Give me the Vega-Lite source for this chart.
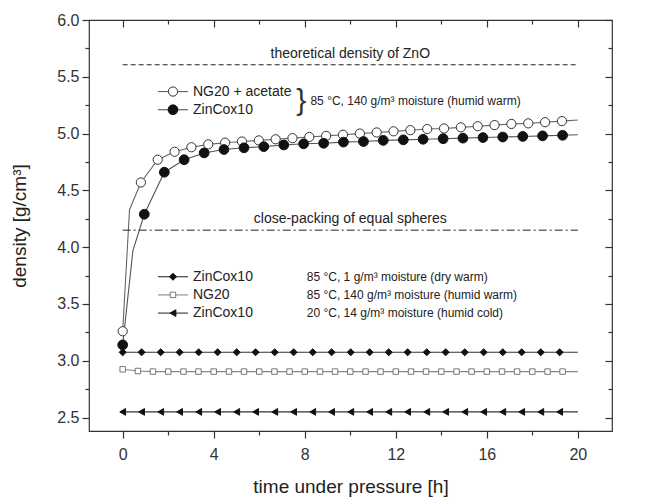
{
  "$schema": "https://vega.github.io/schema/vega-lite/v6.json",
  "width": 523,
  "height": 411,
  "autosize": {"type": "none"},
  "padding": {"left": 89, "top": 20, "right": 37, "bottom": 66},
  "background": "white",
  "config": {
    "view": {"stroke": "#333", "strokeWidth": 1.2},
    "legend": {"disable": true},
    "axis": {"labelFont": "Liberation Sans", "titleFont": "Liberation Sans", "labelFontSize": 16, "titleFontSize": 19, "titleFontWeight": "normal", "labelColor": "#333", "titleColor": "#222", "tickColor": "#333", "tickWidth": 1.2, "domain": false, "grid": false},
    "text": {"font": "Liberation Sans", "color": "#222"}
  },
  "datasets": {
    "curves": [
      {"series": "NG20 + acetate, 85 °C, 140 g/m³", "t": 0, "density": 3.26, "marker": true},
      {"series": "NG20 + acetate, 85 °C, 140 g/m³", "t": 0.3, "density": 4.33, "marker": false},
      {"series": "NG20 + acetate, 85 °C, 140 g/m³", "t": 0.8, "density": 4.57, "marker": true},
      {"series": "NG20 + acetate, 85 °C, 140 g/m³", "t": 1.54, "density": 4.77, "marker": true},
      {"series": "NG20 + acetate, 85 °C, 140 g/m³", "t": 2.28, "density": 4.84, "marker": true},
      {"series": "NG20 + acetate, 85 °C, 140 g/m³", "t": 3.02, "density": 4.88, "marker": true},
      {"series": "NG20 + acetate, 85 °C, 140 g/m³", "t": 3.76, "density": 4.905, "marker": true},
      {"series": "NG20 + acetate, 85 °C, 140 g/m³", "t": 4.5, "density": 4.92, "marker": true},
      {"series": "NG20 + acetate, 85 °C, 140 g/m³", "t": 5.24, "density": 4.93, "marker": true},
      {"series": "NG20 + acetate, 85 °C, 140 g/m³", "t": 5.98, "density": 4.94, "marker": true},
      {"series": "NG20 + acetate, 85 °C, 140 g/m³", "t": 6.72, "density": 4.95, "marker": true},
      {"series": "NG20 + acetate, 85 °C, 140 g/m³", "t": 7.46, "density": 4.96, "marker": true},
      {"series": "NG20 + acetate, 85 °C, 140 g/m³", "t": 8.2, "density": 4.97, "marker": true},
      {"series": "NG20 + acetate, 85 °C, 140 g/m³", "t": 8.94, "density": 4.98, "marker": true},
      {"series": "NG20 + acetate, 85 °C, 140 g/m³", "t": 9.68, "density": 4.99, "marker": true},
      {"series": "NG20 + acetate, 85 °C, 140 g/m³", "t": 10.42, "density": 5.0, "marker": true},
      {"series": "NG20 + acetate, 85 °C, 140 g/m³", "t": 11.16, "density": 5.01, "marker": true},
      {"series": "NG20 + acetate, 85 °C, 140 g/m³", "t": 11.9, "density": 5.02, "marker": true},
      {"series": "NG20 + acetate, 85 °C, 140 g/m³", "t": 12.64, "density": 5.03, "marker": true},
      {"series": "NG20 + acetate, 85 °C, 140 g/m³", "t": 13.38, "density": 5.04, "marker": true},
      {"series": "NG20 + acetate, 85 °C, 140 g/m³", "t": 14.12, "density": 5.045, "marker": true},
      {"series": "NG20 + acetate, 85 °C, 140 g/m³", "t": 14.86, "density": 5.055, "marker": true},
      {"series": "NG20 + acetate, 85 °C, 140 g/m³", "t": 15.6, "density": 5.065, "marker": true},
      {"series": "NG20 + acetate, 85 °C, 140 g/m³", "t": 16.34, "density": 5.075, "marker": true},
      {"series": "NG20 + acetate, 85 °C, 140 g/m³", "t": 17.08, "density": 5.085, "marker": true},
      {"series": "NG20 + acetate, 85 °C, 140 g/m³", "t": 17.82, "density": 5.09, "marker": true},
      {"series": "NG20 + acetate, 85 °C, 140 g/m³", "t": 18.56, "density": 5.1, "marker": true},
      {"series": "NG20 + acetate, 85 °C, 140 g/m³", "t": 19.3, "density": 5.11, "marker": true},
      {"series": "NG20 + acetate, 85 °C, 140 g/m³", "t": 20, "density": 5.12, "marker": false},

      {"series": "ZinCox10, 85 °C, 140 g/m³", "t": 0, "density": 3.14, "marker": true},
      {"series": "ZinCox10, 85 °C, 140 g/m³", "t": 0.45, "density": 3.97, "marker": false},
      {"series": "ZinCox10, 85 °C, 140 g/m³", "t": 0.95, "density": 4.29, "marker": true},
      {"series": "ZinCox10, 85 °C, 140 g/m³", "t": 1.83, "density": 4.66, "marker": true},
      {"series": "ZinCox10, 85 °C, 140 g/m³", "t": 2.7, "density": 4.77, "marker": true},
      {"series": "ZinCox10, 85 °C, 140 g/m³", "t": 3.58, "density": 4.83, "marker": true},
      {"series": "ZinCox10, 85 °C, 140 g/m³", "t": 4.45, "density": 4.86, "marker": true},
      {"series": "ZinCox10, 85 °C, 140 g/m³", "t": 5.33, "density": 4.875, "marker": true},
      {"series": "ZinCox10, 85 °C, 140 g/m³", "t": 6.2, "density": 4.885, "marker": true},
      {"series": "ZinCox10, 85 °C, 140 g/m³", "t": 7.08, "density": 4.9, "marker": true},
      {"series": "ZinCox10, 85 °C, 140 g/m³", "t": 7.95, "density": 4.91, "marker": true},
      {"series": "ZinCox10, 85 °C, 140 g/m³", "t": 8.83, "density": 4.915, "marker": true},
      {"series": "ZinCox10, 85 °C, 140 g/m³", "t": 9.7, "density": 4.925, "marker": true},
      {"series": "ZinCox10, 85 °C, 140 g/m³", "t": 10.58, "density": 4.93, "marker": true},
      {"series": "ZinCox10, 85 °C, 140 g/m³", "t": 11.45, "density": 4.94, "marker": true},
      {"series": "ZinCox10, 85 °C, 140 g/m³", "t": 12.33, "density": 4.945, "marker": true},
      {"series": "ZinCox10, 85 °C, 140 g/m³", "t": 13.2, "density": 4.95, "marker": true},
      {"series": "ZinCox10, 85 °C, 140 g/m³", "t": 14.08, "density": 4.955, "marker": true},
      {"series": "ZinCox10, 85 °C, 140 g/m³", "t": 14.95, "density": 4.96, "marker": true},
      {"series": "ZinCox10, 85 °C, 140 g/m³", "t": 15.83, "density": 4.965, "marker": true},
      {"series": "ZinCox10, 85 °C, 140 g/m³", "t": 16.7, "density": 4.97, "marker": true},
      {"series": "ZinCox10, 85 °C, 140 g/m³", "t": 17.58, "density": 4.975, "marker": true},
      {"series": "ZinCox10, 85 °C, 140 g/m³", "t": 18.45, "density": 4.98, "marker": true},
      {"series": "ZinCox10, 85 °C, 140 g/m³", "t": 19.33, "density": 4.985, "marker": true},
      {"series": "ZinCox10, 85 °C, 140 g/m³", "t": 20, "density": 4.99, "marker": false},

      {"series": "ZinCox10, 85 °C, 1 g/m³", "t": 0, "density": 3.075, "marker": true},
      {"series": "ZinCox10, 85 °C, 1 g/m³", "t": 0.83, "density": 3.075, "marker": true},
      {"series": "ZinCox10, 85 °C, 1 g/m³", "t": 1.67, "density": 3.075, "marker": true},
      {"series": "ZinCox10, 85 °C, 1 g/m³", "t": 2.5, "density": 3.075, "marker": true},
      {"series": "ZinCox10, 85 °C, 1 g/m³", "t": 3.34, "density": 3.075, "marker": true},
      {"series": "ZinCox10, 85 °C, 1 g/m³", "t": 4.17, "density": 3.075, "marker": true},
      {"series": "ZinCox10, 85 °C, 1 g/m³", "t": 5.01, "density": 3.075, "marker": true},
      {"series": "ZinCox10, 85 °C, 1 g/m³", "t": 5.84, "density": 3.075, "marker": true},
      {"series": "ZinCox10, 85 °C, 1 g/m³", "t": 6.68, "density": 3.075, "marker": true},
      {"series": "ZinCox10, 85 °C, 1 g/m³", "t": 7.51, "density": 3.075, "marker": true},
      {"series": "ZinCox10, 85 °C, 1 g/m³", "t": 8.35, "density": 3.075, "marker": true},
      {"series": "ZinCox10, 85 °C, 1 g/m³", "t": 9.18, "density": 3.075, "marker": true},
      {"series": "ZinCox10, 85 °C, 1 g/m³", "t": 10.02, "density": 3.075, "marker": true},
      {"series": "ZinCox10, 85 °C, 1 g/m³", "t": 10.85, "density": 3.075, "marker": true},
      {"series": "ZinCox10, 85 °C, 1 g/m³", "t": 11.69, "density": 3.075, "marker": true},
      {"series": "ZinCox10, 85 °C, 1 g/m³", "t": 12.52, "density": 3.075, "marker": true},
      {"series": "ZinCox10, 85 °C, 1 g/m³", "t": 13.36, "density": 3.075, "marker": true},
      {"series": "ZinCox10, 85 °C, 1 g/m³", "t": 14.19, "density": 3.075, "marker": true},
      {"series": "ZinCox10, 85 °C, 1 g/m³", "t": 15.03, "density": 3.075, "marker": true},
      {"series": "ZinCox10, 85 °C, 1 g/m³", "t": 15.86, "density": 3.075, "marker": true},
      {"series": "ZinCox10, 85 °C, 1 g/m³", "t": 16.7, "density": 3.075, "marker": true},
      {"series": "ZinCox10, 85 °C, 1 g/m³", "t": 17.53, "density": 3.075, "marker": true},
      {"series": "ZinCox10, 85 °C, 1 g/m³", "t": 18.37, "density": 3.075, "marker": true},
      {"series": "ZinCox10, 85 °C, 1 g/m³", "t": 19.2, "density": 3.075, "marker": true},
      {"series": "ZinCox10, 85 °C, 1 g/m³", "t": 20, "density": 3.075, "marker": false},

      {"series": "NG20, 85 °C, 140 g/m³", "t": 0, "density": 2.925, "marker": true},
      {"series": "NG20, 85 °C, 140 g/m³", "t": 0.67, "density": 2.91, "marker": true},
      {"series": "NG20, 85 °C, 140 g/m³", "t": 1.33, "density": 2.905, "marker": true},
      {"series": "NG20, 85 °C, 140 g/m³", "t": 2.0, "density": 2.905, "marker": true},
      {"series": "NG20, 85 °C, 140 g/m³", "t": 2.67, "density": 2.905, "marker": true},
      {"series": "NG20, 85 °C, 140 g/m³", "t": 3.33, "density": 2.905, "marker": true},
      {"series": "NG20, 85 °C, 140 g/m³", "t": 4.0, "density": 2.905, "marker": true},
      {"series": "NG20, 85 °C, 140 g/m³", "t": 4.67, "density": 2.905, "marker": true},
      {"series": "NG20, 85 °C, 140 g/m³", "t": 5.33, "density": 2.905, "marker": true},
      {"series": "NG20, 85 °C, 140 g/m³", "t": 6.0, "density": 2.905, "marker": true},
      {"series": "NG20, 85 °C, 140 g/m³", "t": 6.67, "density": 2.905, "marker": true},
      {"series": "NG20, 85 °C, 140 g/m³", "t": 7.33, "density": 2.905, "marker": true},
      {"series": "NG20, 85 °C, 140 g/m³", "t": 8.0, "density": 2.905, "marker": true},
      {"series": "NG20, 85 °C, 140 g/m³", "t": 8.67, "density": 2.905, "marker": true},
      {"series": "NG20, 85 °C, 140 g/m³", "t": 9.33, "density": 2.905, "marker": true},
      {"series": "NG20, 85 °C, 140 g/m³", "t": 10.0, "density": 2.905, "marker": true},
      {"series": "NG20, 85 °C, 140 g/m³", "t": 10.67, "density": 2.905, "marker": true},
      {"series": "NG20, 85 °C, 140 g/m³", "t": 11.33, "density": 2.905, "marker": true},
      {"series": "NG20, 85 °C, 140 g/m³", "t": 12.0, "density": 2.905, "marker": true},
      {"series": "NG20, 85 °C, 140 g/m³", "t": 12.67, "density": 2.905, "marker": true},
      {"series": "NG20, 85 °C, 140 g/m³", "t": 13.33, "density": 2.905, "marker": true},
      {"series": "NG20, 85 °C, 140 g/m³", "t": 14.0, "density": 2.905, "marker": true},
      {"series": "NG20, 85 °C, 140 g/m³", "t": 14.67, "density": 2.905, "marker": true},
      {"series": "NG20, 85 °C, 140 g/m³", "t": 15.33, "density": 2.905, "marker": true},
      {"series": "NG20, 85 °C, 140 g/m³", "t": 16.0, "density": 2.905, "marker": true},
      {"series": "NG20, 85 °C, 140 g/m³", "t": 16.67, "density": 2.905, "marker": true},
      {"series": "NG20, 85 °C, 140 g/m³", "t": 17.33, "density": 2.905, "marker": true},
      {"series": "NG20, 85 °C, 140 g/m³", "t": 18.0, "density": 2.905, "marker": true},
      {"series": "NG20, 85 °C, 140 g/m³", "t": 18.67, "density": 2.905, "marker": true},
      {"series": "NG20, 85 °C, 140 g/m³", "t": 19.33, "density": 2.905, "marker": true},
      {"series": "NG20, 85 °C, 140 g/m³", "t": 20, "density": 2.905, "marker": false},

      {"series": "ZinCox10, 20 °C, 14 g/m³", "t": 0, "density": 2.55, "marker": true},
      {"series": "ZinCox10, 20 °C, 14 g/m³", "t": 0.83, "density": 2.55, "marker": true},
      {"series": "ZinCox10, 20 °C, 14 g/m³", "t": 1.67, "density": 2.55, "marker": true},
      {"series": "ZinCox10, 20 °C, 14 g/m³", "t": 2.5, "density": 2.55, "marker": true},
      {"series": "ZinCox10, 20 °C, 14 g/m³", "t": 3.34, "density": 2.55, "marker": true},
      {"series": "ZinCox10, 20 °C, 14 g/m³", "t": 4.17, "density": 2.55, "marker": true},
      {"series": "ZinCox10, 20 °C, 14 g/m³", "t": 5.01, "density": 2.55, "marker": true},
      {"series": "ZinCox10, 20 °C, 14 g/m³", "t": 5.84, "density": 2.55, "marker": true},
      {"series": "ZinCox10, 20 °C, 14 g/m³", "t": 6.68, "density": 2.55, "marker": true},
      {"series": "ZinCox10, 20 °C, 14 g/m³", "t": 7.51, "density": 2.55, "marker": true},
      {"series": "ZinCox10, 20 °C, 14 g/m³", "t": 8.35, "density": 2.55, "marker": true},
      {"series": "ZinCox10, 20 °C, 14 g/m³", "t": 9.18, "density": 2.55, "marker": true},
      {"series": "ZinCox10, 20 °C, 14 g/m³", "t": 10.02, "density": 2.55, "marker": true},
      {"series": "ZinCox10, 20 °C, 14 g/m³", "t": 10.85, "density": 2.55, "marker": true},
      {"series": "ZinCox10, 20 °C, 14 g/m³", "t": 11.69, "density": 2.55, "marker": true},
      {"series": "ZinCox10, 20 °C, 14 g/m³", "t": 12.52, "density": 2.55, "marker": true},
      {"series": "ZinCox10, 20 °C, 14 g/m³", "t": 13.36, "density": 2.55, "marker": true},
      {"series": "ZinCox10, 20 °C, 14 g/m³", "t": 14.19, "density": 2.55, "marker": true},
      {"series": "ZinCox10, 20 °C, 14 g/m³", "t": 15.03, "density": 2.55, "marker": true},
      {"series": "ZinCox10, 20 °C, 14 g/m³", "t": 15.86, "density": 2.55, "marker": true},
      {"series": "ZinCox10, 20 °C, 14 g/m³", "t": 16.7, "density": 2.55, "marker": true},
      {"series": "ZinCox10, 20 °C, 14 g/m³", "t": 17.53, "density": 2.55, "marker": true},
      {"series": "ZinCox10, 20 °C, 14 g/m³", "t": 18.37, "density": 2.55, "marker": true},
      {"series": "ZinCox10, 20 °C, 14 g/m³", "t": 19.2, "density": 2.55, "marker": true},
      {"series": "ZinCox10, 20 °C, 14 g/m³", "t": 20, "density": 2.55, "marker": false}
    ]
  },
  "resolve": {"axis": {"x": "independent", "y": "independent"}},
  "layer": [
    {
      "data": {"name": "curves"},
      "mark": {"type": "line", "strokeWidth": 1.1},
      "encoding": {
        "x": {"field": "t", "type": "quantitative", "scale": {"domain": [-1.48, 21.5], "nice": false, "zero": false},
          "axis": {"orient": "bottom", "values": [0, 2, 4, 6, 8, 10, 12, 14, 16, 18, 20], "labelExpr": "datum.value % 4 === 0 ? datum.label : ''", "tickSize": {"condition": {"test": "datum.value % 4 === 0", "value": 7}, "value": 4}, "labelPadding": 8, "title": "time under pressure [h]", "titlePadding": 15}},
        "y": {"field": "density", "type": "quantitative", "scale": {"domain": [2.382, 6.0], "nice": false, "zero": false},
          "axis": {"orient": "left", "values": [2.5, 2.75, 3, 3.25, 3.5, 3.75, 4, 4.25, 4.5, 4.75, 5, 5.25, 5.5, 5.75, 6], "labelExpr": "round(datum.value * 4) % 2 === 0 ? format(datum.value, '.1f') : ''", "tickSize": {"condition": {"test": "round(datum.value * 4) % 2 === 0", "value": 7}, "value": 4}, "labelPadding": 3, "title": "density [g/cm³]", "titlePadding": 27}},
        "color": {"field": "series", "type": "nominal", "legend": null,
          "scale": {"domain": ["NG20 + acetate, 85 °C, 140 g/m³", "ZinCox10, 85 °C, 140 g/m³", "ZinCox10, 85 °C, 1 g/m³", "NG20, 85 °C, 140 g/m³", "ZinCox10, 20 °C, 14 g/m³"], "range": ["#666666", "#555555", "#333333", "#888888", "#333333"]}},
        "order": {"field": "t", "type": "quantitative"}
      }
    },
    {
      "data": {"name": "curves"},
      "transform": [{"filter": "datum.marker"}],
      "mark": {"type": "point", "opacity": 1, "strokeWidth": 1},
      "encoding": {
        "x": {"field": "t", "type": "quantitative",
          "axis": {"orient": "top", "values": [0, 2, 4, 6, 8, 10, 12, 14, 16, 18, 20], "labels": false, "title": null, "tickSize": {"condition": {"test": "datum.value % 4 === 0", "value": -7}, "value": -4}}},
        "y": {"field": "density", "type": "quantitative",
          "axis": {"orient": "right", "values": [2.5, 2.75, 3, 3.25, 3.5, 3.75, 4, 4.25, 4.5, 4.75, 5, 5.25, 5.5, 5.75, 6], "labels": false, "title": null, "tickSize": {"condition": {"test": "round(datum.value * 4) % 2 === 0", "value": -7}, "value": -4}}},
        "shape": {"field": "series", "type": "nominal", "legend": null,
          "scale": {"domain": ["NG20 + acetate, 85 °C, 140 g/m³", "ZinCox10, 85 °C, 140 g/m³", "ZinCox10, 85 °C, 1 g/m³", "NG20, 85 °C, 140 g/m³", "ZinCox10, 20 °C, 14 g/m³"], "range": ["circle", "circle", "diamond", "square", "triangle-left"]}},
        "fill": {"field": "series", "type": "nominal", "legend": null,
          "scale": {"domain": ["NG20 + acetate, 85 °C, 140 g/m³", "ZinCox10, 85 °C, 140 g/m³", "ZinCox10, 85 °C, 1 g/m³", "NG20, 85 °C, 140 g/m³", "ZinCox10, 20 °C, 14 g/m³"], "range": ["#ffffff", "#111111", "#111111", "#ffffff", "#111111"]}},
        "stroke": {"field": "series", "type": "nominal", "legend": null,
          "scale": {"domain": ["NG20 + acetate, 85 °C, 140 g/m³", "ZinCox10, 85 °C, 140 g/m³", "ZinCox10, 85 °C, 1 g/m³", "NG20, 85 °C, 140 g/m³", "ZinCox10, 20 °C, 14 g/m³"], "range": ["#333333", "#111111", "#111111", "#777777", "#111111"]}},
        "size": {"field": "series", "type": "nominal", "legend": null,
          "scale": {"type": "ordinal", "domain": ["NG20 + acetate, 85 °C, 140 g/m³", "ZinCox10, 85 °C, 140 g/m³", "ZinCox10, 85 °C, 1 g/m³", "NG20, 85 °C, 140 g/m³", "ZinCox10, 20 °C, 14 g/m³"], "range": [85, 95, 50, 30, 45]}}
      }
    },
    {
      "data": {"values": [{}]},
      "mark": {"type": "rule", "strokeDash": [5, 3], "color": "#222", "strokeWidth": 1},
      "encoding": {"x": {"datum": 0, "axis": null}, "x2": {"datum": 20}, "y": {"datum": 5.606, "axis": null}}
    },
    {
      "data": {"values": [{}]},
      "mark": {"type": "rule", "strokeDash": [8, 3, 2, 3], "color": "#222", "strokeWidth": 1},
      "encoding": {"x": {"datum": 0, "axis": null}, "x2": {"datum": 20}, "y": {"datum": 4.15, "axis": null}}
    },
    {
      "data": {"values": [{}]},
      "mark": {"type": "text", "text": "theoretical density of ZnO", "fontSize": 14, "align": "center", "baseline": "bottom", "dy": -4},
      "encoding": {"x": {"datum": 10, "axis": null}, "y": {"datum": 5.606, "axis": null}}
    },
    {
      "data": {"values": [{}]},
      "mark": {"type": "text", "text": "close-packing of equal spheres", "fontSize": 14, "align": "center", "baseline": "bottom", "dy": -4},
      "encoding": {"x": {"datum": 10, "axis": null}, "y": {"datum": 4.15, "axis": null}}
    },
    {"data": {"values": [{}]}, "mark": {"type": "rule", "strokeWidth": 1.1},
      "encoding": {"x": {"datum": 1.55, "axis": null}, "x2": {"datum": 2.87}, "y": {"datum": 5.37, "axis": null}, "color": {"datum": "NG20 + acetate, 85 °C, 140 g/m³"}}},
    {"data": {"values": [{}]}, "mark": {"type": "rule", "strokeWidth": 1.1},
      "encoding": {"x": {"datum": 1.55, "axis": null}, "x2": {"datum": 2.87}, "y": {"datum": 5.21, "axis": null}, "color": {"datum": "ZinCox10, 85 °C, 140 g/m³"}}},
    {"data": {"values": [{}]}, "mark": {"type": "rule", "strokeWidth": 1.1},
      "encoding": {"x": {"datum": 1.55, "axis": null}, "x2": {"datum": 2.87}, "y": {"datum": 3.74, "axis": null}, "color": {"datum": "ZinCox10, 85 °C, 1 g/m³"}}},
    {"data": {"values": [{}]}, "mark": {"type": "rule", "strokeWidth": 1.1},
      "encoding": {"x": {"datum": 1.55, "axis": null}, "x2": {"datum": 2.87}, "y": {"datum": 3.58, "axis": null}, "color": {"datum": "NG20, 85 °C, 140 g/m³"}}},
    {"data": {"values": [{}]}, "mark": {"type": "rule", "strokeWidth": 1.1},
      "encoding": {"x": {"datum": 1.55, "axis": null}, "x2": {"datum": 2.87}, "y": {"datum": 3.42, "axis": null}, "color": {"datum": "ZinCox10, 20 °C, 14 g/m³"}}},
    {"data": {"values": [{}]}, "mark": {"type": "point", "opacity": 1, "strokeWidth": 1, "size": 85},
      "encoding": {"x": {"datum": 2.21, "axis": null}, "y": {"datum": 5.37, "axis": null}, "shape": {"datum": "NG20 + acetate, 85 °C, 140 g/m³"}, "fill": {"datum": "NG20 + acetate, 85 °C, 140 g/m³"}, "stroke": {"datum": "NG20 + acetate, 85 °C, 140 g/m³"}}},
    {"data": {"values": [{}]}, "mark": {"type": "point", "opacity": 1, "strokeWidth": 1, "size": 95},
      "encoding": {"x": {"datum": 2.21, "axis": null}, "y": {"datum": 5.21, "axis": null}, "shape": {"datum": "ZinCox10, 85 °C, 140 g/m³"}, "fill": {"datum": "ZinCox10, 85 °C, 140 g/m³"}, "stroke": {"datum": "ZinCox10, 85 °C, 140 g/m³"}}},
    {"data": {"values": [{}]}, "mark": {"type": "point", "opacity": 1, "strokeWidth": 1, "size": 50},
      "encoding": {"x": {"datum": 2.21, "axis": null}, "y": {"datum": 3.74, "axis": null}, "shape": {"datum": "ZinCox10, 85 °C, 1 g/m³"}, "fill": {"datum": "ZinCox10, 85 °C, 1 g/m³"}, "stroke": {"datum": "ZinCox10, 85 °C, 1 g/m³"}}},
    {"data": {"values": [{}]}, "mark": {"type": "point", "opacity": 1, "strokeWidth": 1, "size": 30},
      "encoding": {"x": {"datum": 2.21, "axis": null}, "y": {"datum": 3.58, "axis": null}, "shape": {"datum": "NG20, 85 °C, 140 g/m³"}, "fill": {"datum": "NG20, 85 °C, 140 g/m³"}, "stroke": {"datum": "NG20, 85 °C, 140 g/m³"}}},
    {"data": {"values": [{}]}, "mark": {"type": "point", "opacity": 1, "strokeWidth": 1, "size": 45},
      "encoding": {"x": {"datum": 2.21, "axis": null}, "y": {"datum": 3.42, "axis": null}, "shape": {"datum": "ZinCox10, 20 °C, 14 g/m³"}, "fill": {"datum": "ZinCox10, 20 °C, 14 g/m³"}, "stroke": {"datum": "ZinCox10, 20 °C, 14 g/m³"}}},
    {"data": {"values": [{}]},
      "mark": {"type": "text", "text": ["NG20 + acetate", "ZinCox10"], "fontSize": 14, "lineHeight": 18.3, "align": "left", "baseline": "middle"},
      "encoding": {"x": {"datum": 3.09, "axis": null}, "y": {"datum": 5.37, "axis": null}}},
    {"data": {"values": [{}]},
      "mark": {"type": "text", "text": "}", "fontSize": 30, "align": "center", "baseline": "middle", "color": "#333"},
      "encoding": {"x": {"datum": 7.85, "axis": null}, "y": {"datum": 5.29, "axis": null}}},
    {"data": {"values": [{}]},
      "mark": {"type": "text", "text": "85 °C, 140 g/m³ moisture (humid warm)", "fontSize": 12, "align": "left", "baseline": "middle"},
      "encoding": {"x": {"datum": 8.25, "axis": null}, "y": {"datum": 5.29, "axis": null}}},
    {"data": {"values": [{}]},
      "mark": {"type": "text", "text": ["ZinCox10", "NG20", "ZinCox10"], "fontSize": 14, "lineHeight": 18.3, "align": "left", "baseline": "middle"},
      "encoding": {"x": {"datum": 3.09, "axis": null}, "y": {"datum": 3.74, "axis": null}}},
    {"data": {"values": [{}]},
      "mark": {"type": "text", "text": ["85 °C, 1 g/m³ moisture (dry warm)", "85 °C, 140 g/m³ moisture (humid warm)", "20 °C, 14 g/m³ moisture (humid cold)"], "fontSize": 12, "lineHeight": 18.3, "align": "left", "baseline": "middle"},
      "encoding": {"x": {"datum": 8.09, "axis": null}, "y": {"datum": 3.74, "axis": null}}}
  ]
}
